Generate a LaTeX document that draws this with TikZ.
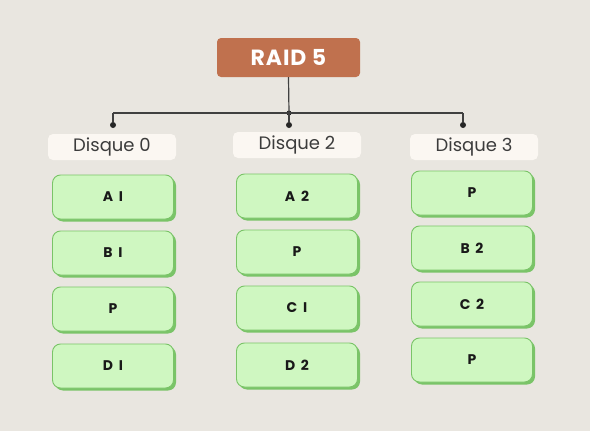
\documentclass[tikz,border=0pt]{standalone}
\usepackage{fontspec}
\setmainfont{Poppins}
\usetikzlibrary{shadows}
\definecolor{paper}{RGB}{233,230,224}
\definecolor{rust}{RGB}{192,113,78}
\definecolor{mint}{RGB}{207,247,193}
\definecolor{leaf}{RGB}{122,196,104}
\definecolor{cream}{RGB}{251,247,242}
\definecolor{ink}{RGB}{60,60,60}

\tikzset{
  raid/.style={fill=rust, rounded corners=4pt, minimum width=143pt, minimum height=39pt,
    text=white, font=\bfseries\fontsize{22}{22}\selectfont\addfontfeature{LetterSpace=4}},
  disklabel/.style={fill=cream, rounded corners=5pt, minimum width=128pt, minimum height=26pt,
    text=ink, font=\fontsize{18}{18}\selectfont},
  block/.style={fill=mint, draw=leaf, line width=0.9pt, rounded corners=8pt,
    minimum width=121pt, minimum height=44pt, text=black!90,
    font=\bfseries\fontsize{14}{14}\selectfont\addfontfeature{LetterSpace=20},
    drop shadow={shadow xshift=2.5pt, shadow yshift=-2.5pt, fill=leaf, opacity=1}},
  tap/.style={circle, fill=black!85, inner sep=0pt, minimum size=6pt},
  wire/.style={line width=1.2pt, black!75}
}

\begin{document}
\begin{tikzpicture}[x=1pt,y=-1pt]
        % Background
        \fill[paper] (0,0) rectangle (590,431);
        \useasboundingbox (0,0) rectangle (590,431);

        % Title
        \node[raid] (raid) at (288.5,57.5) {RAID 5};

        % Tree
        \coordinate (hub) at (289,113);
        \coordinate (left) at (113,113);
        \coordinate (right) at (463,113);
        \node[tap] (tap0) at (113,125) {};
        \node[tap] (tap2) at (289,125) {};
        \node[tap] (tap3) at (463,125) {};
        \node[tap, minimum size=5pt] (knot) at (hub) {};
        \draw[wire] (raid.south) -- (hub);
        \draw[wire] (left) -- (right);
        \draw[wire] (left) -- (tap0);
        \draw[wire] (hub) -- (tap2);
        \draw[wire] (right) -- (tap3);

        % Disque 0
        \node[disklabel] (d0) at (112,147) {Disque 0};
        \node[block] (d0a) at (113,197) {A I};
        \node[block] (d0b) at (113,253) {B I};
        \node[block] (d0c) at (113,309) {P};
        \node[block] (d0d) at (113,366) {D I};

        % Disque 2
        \node[disklabel] (d2) at (297,145) {Disque 2};
        \node[block] (d2a) at (297,196) {A 2};
        \node[block] (d2b) at (297,252) {P};
        \node[block] (d2c) at (297,308) {C I};
        \node[block] (d2d) at (297,365) {D 2};

        % Disque 3
        \node[disklabel] (d3) at (474,147) {Disque 3};
        \node[block] (d3a) at (472,193) {P};
        \node[block] (d3b) at (472,248) {B 2};
        \node[block] (d3c) at (472,304) {C 2};
        \node[block] (d3d) at (472,360) {P};

    \end{tikzpicture}
\end{document}
